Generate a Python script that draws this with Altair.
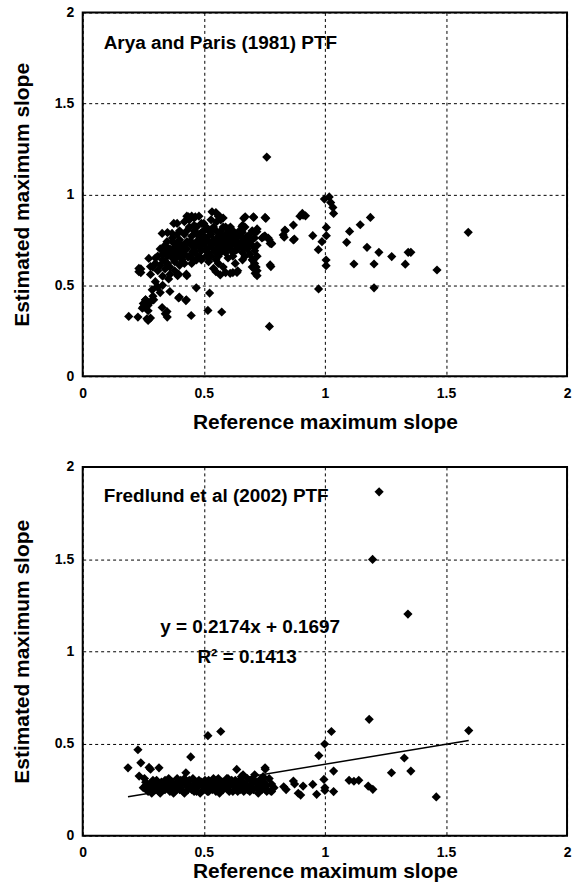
import altair as alt
import pandas as pd

# ---------------- data ----------------
ARYA_POINTS = [
    (0.760, 1.205), (0.771, 0.274), (1.592, 0.791), (1.463, 0.584), (1.355, 0.681),
    (1.344, 0.681), (1.332, 0.616), (1.276, 0.658), (1.223, 0.681), (1.203, 0.617),
    (1.203, 0.486), (1.188, 0.873), (1.174, 0.709), (1.146, 0.833), (1.120, 0.617),
    (1.102, 0.796), (1.090, 0.736), (1.036, 0.895), (1.033, 0.928), (1.024, 0.955),
    (0.998, 0.974), (1.018, 0.986), (1.006, 0.818), (1.006, 0.773), (1.005, 0.639),
    (1.005, 0.608), (0.988, 0.740), (0.973, 0.696), (0.950, 0.773), (0.974, 0.480),
    (0.920, 0.882), (0.907, 0.895), (0.874, 0.754), (0.870, 0.831), (0.836, 0.800),
    (0.832, 0.764), (0.777, 0.603), (0.780, 0.729), (0.756, 0.868), (0.744, 0.764),
    (0.766, 0.760), (0.710, 0.791), (0.720, 0.810), (0.706, 0.873), (0.665, 0.868),
    (0.659, 0.791), (0.720, 0.553), (0.710, 0.590), (0.703, 0.636), (0.574, 0.353),
    (0.517, 0.362), (0.524, 0.457), (0.469, 0.486), (0.448, 0.334), (0.426, 0.416),
    (0.399, 0.435), (0.392, 0.553), (0.430, 0.553), (0.360, 0.466), (0.341, 0.343),
    (0.349, 0.325), (0.190, 0.329), (0.228, 0.325), (0.270, 0.307), (0.265, 0.316),
    (0.250, 0.380), (0.246, 0.374), (0.259, 0.420), (0.293, 0.420), (0.287, 0.475),
    (0.307, 0.493), (0.328, 0.378), (0.348, 0.356), (0.355, 0.535), (0.396, 0.430),
    (0.428, 0.420), (0.396, 0.561), (0.428, 0.561), (0.232, 0.575), (0.232, 0.593),
    (0.280, 0.603), (0.273, 0.648), (0.540, 0.593), (0.550, 0.575), (0.568, 0.557),
    (0.609, 0.566), (0.637, 0.571), (0.712, 0.566), (0.716, 0.600), (0.376, 0.840),
    (0.328, 0.785), (0.369, 0.785), (0.348, 0.740), (0.437, 0.877), (0.465, 0.877),
    (0.534, 0.904), (0.568, 0.877), (0.553, 0.850), (0.671, 0.877), (0.705, 0.877),
    (0.753, 0.873), (0.657, 0.822), (0.719, 0.795), (0.897, 0.880), (0.910, 0.885),
    (0.835, 0.804), (0.828, 0.776), (0.870, 0.749), (0.753, 0.771), (0.774, 0.730),
    (0.774, 0.612),
    (0.30, 0.62), (0.31, 0.66), (0.32, 0.70), (0.33, 0.64), (0.34, 0.68), (0.34, 0.72),
    (0.35, 0.62), (0.35, 0.66), (0.36, 0.70), (0.36, 0.60), (0.37, 0.65), (0.37, 0.74),
    (0.38, 0.68), (0.38, 0.63), (0.39, 0.71), (0.39, 0.66), (0.40, 0.69), (0.40, 0.75),
    (0.41, 0.64), (0.41, 0.72), (0.42, 0.67), (0.42, 0.78), (0.43, 0.70), (0.43, 0.74),
    (0.44, 0.82), (0.44, 0.66), (0.45, 0.72), (0.45, 0.77), (0.46, 0.69), (0.46, 0.80),
    (0.47, 0.74), (0.47, 0.67), (0.48, 0.71), (0.48, 0.78), (0.49, 0.75), (0.49, 0.69),
    (0.50, 0.73), (0.50, 0.80), (0.51, 0.70), (0.51, 0.76), (0.52, 0.74), (0.52, 0.67),
    (0.53, 0.78), (0.53, 0.72), (0.54, 0.75), (0.54, 0.82), (0.55, 0.69), (0.55, 0.73),
    (0.56, 0.77), (0.56, 0.66), (0.57, 0.74), (0.57, 0.80), (0.58, 0.71), (0.58, 0.76),
    (0.59, 0.68), (0.59, 0.78), (0.60, 0.73), (0.60, 0.75), (0.61, 0.70), (0.61, 0.77),
    (0.62, 0.74), (0.62, 0.68), (0.63, 0.72), (0.63, 0.76), (0.64, 0.70), (0.64, 0.74),
    (0.65, 0.72), (0.66, 0.68), (0.66, 0.76), (0.67, 0.73), (0.68, 0.70), (0.68, 0.75),
    (0.69, 0.67), (0.70, 0.72), (0.70, 0.64), (0.71, 0.69), (0.72, 0.66), (0.71, 0.62),
    (0.70, 0.60), (0.72, 0.58),
    (0.44, 0.86), (0.46, 0.87), (0.50, 0.84), (0.53, 0.86), (0.57, 0.86), (0.59, 0.82),
    (0.62, 0.80), (0.47, 0.64), (0.52, 0.63), (0.56, 0.62), (0.58, 0.60), (0.59, 0.57),
    (0.62, 0.57), (0.64, 0.58), (0.63, 0.62), (0.66, 0.64), (0.67, 0.66), (0.53, 0.66),
    (0.55, 0.64), (0.45, 0.65), (0.42, 0.62), (0.40, 0.61), (0.38, 0.58), (0.36, 0.56),
    (0.34, 0.59), (0.33, 0.55), (0.31, 0.58), (0.30, 0.52), (0.31, 0.49), (0.33, 0.50),
    (0.32, 0.46), (0.29, 0.44), (0.28, 0.41), (0.27, 0.39), (0.26, 0.42), (0.27, 0.36),
    (0.28, 0.32), (0.26, 0.38), (0.25, 0.40), (0.24, 0.57), (0.24, 0.59), (0.28, 0.56),
    (0.29, 0.60), (0.30, 0.65), (0.35, 0.79), (0.37, 0.76), (0.39, 0.78), (0.39, 0.84),
    (0.42, 0.85), (0.43, 0.88), (0.45, 0.88), (0.48, 0.88), (0.47, 0.82), (0.49, 0.79),
    (0.51, 0.82), (0.55, 0.90), (0.56, 0.88), (0.58, 0.87), (0.60, 0.81), (0.62, 0.79),
    (0.65, 0.80), (0.66, 0.83), (0.67, 0.82), (0.69, 0.78), (0.71, 0.76), (0.72, 0.72),
    (0.70, 0.80), (0.74, 0.76), (0.75, 0.77), (0.77, 0.75), (0.78, 0.73),
    (0.365, 0.675), (0.375, 0.705), (0.385, 0.655), (0.395, 0.735), (0.405, 0.665),
    (0.415, 0.695), (0.425, 0.725), (0.435, 0.655), (0.445, 0.745), (0.455, 0.685),
    (0.465, 0.715), (0.475, 0.775), (0.485, 0.655), (0.495, 0.725), (0.505, 0.765),
    (0.515, 0.685), (0.525, 0.795), (0.535, 0.705), (0.545, 0.685), (0.555, 0.755),
    (0.565, 0.705), (0.575, 0.775), (0.585, 0.735), (0.595, 0.705), (0.605, 0.785),
    (0.615, 0.725), (0.625, 0.755), (0.635, 0.695), (0.645, 0.775), (0.655, 0.735),
    (0.665, 0.705), (0.675, 0.765), (0.685, 0.725), (0.695, 0.745), (0.43, 0.80),
    (0.46, 0.83), (0.49, 0.84), (0.52, 0.80), (0.55, 0.80), (0.58, 0.82), (0.61, 0.82),
    (0.64, 0.79), (0.40, 0.80), (0.38, 0.73), (0.35, 0.70), (0.33, 0.67), (0.32, 0.61),
    (0.34, 0.63), (0.49, 0.64), (0.51, 0.66), (0.60, 0.65), (0.62, 0.66), (0.57, 0.68),
    (0.45, 0.62),
]

FRED_POINTS = [
    (1.224, 1.865), (1.197, 1.498), (1.343, 1.202), (1.183, 0.631), (1.594, 0.570),
    (1.027, 0.565), (0.999, 0.497), (0.975, 0.434), (1.036, 0.350), (1.328, 0.421),
    (1.355, 0.350), (1.275, 0.341), (1.460, 0.210), (1.179, 0.269), (1.198, 0.251),
    (1.140, 0.300), (1.120, 0.295), (1.100, 0.300), (1.036, 0.239), (0.996, 0.305),
    (1.000, 0.260), (1.000, 0.245), (0.966, 0.224), (0.950, 0.278), (0.910, 0.269),
    (0.890, 0.230), (0.900, 0.220), (0.870, 0.296), (0.875, 0.280), (0.830, 0.265),
    (0.840, 0.250), (0.776, 0.242), (0.753, 0.368), (0.570, 0.565), (0.517, 0.542),
    (0.446, 0.427), (0.426, 0.341), (0.315, 0.368), (0.274, 0.370), (0.280, 0.360),
    (0.240, 0.395), (0.228, 0.466), (0.233, 0.323), (0.187, 0.368), (0.636, 0.359),
    (0.662, 0.330), (0.754, 0.360),
    (0.25, 0.26), (0.26, 0.29), (0.27, 0.24), (0.28, 0.27), (0.29, 0.30), (0.30, 0.25),
    (0.31, 0.28), (0.32, 0.23), (0.33, 0.26), (0.34, 0.30), (0.35, 0.27), (0.36, 0.24),
    (0.37, 0.29), (0.38, 0.26), (0.39, 0.31), (0.40, 0.25), (0.41, 0.28), (0.42, 0.23),
    (0.43, 0.27), (0.44, 0.30), (0.45, 0.25), (0.46, 0.28), (0.47, 0.24), (0.48, 0.27),
    (0.49, 0.29), (0.50, 0.25), (0.51, 0.27), (0.52, 0.30), (0.53, 0.26), (0.54, 0.28),
    (0.55, 0.24), (0.56, 0.31), (0.57, 0.27), (0.58, 0.25), (0.59, 0.29), (0.60, 0.26),
    (0.61, 0.28), (0.62, 0.24), (0.63, 0.30), (0.64, 0.27), (0.65, 0.25), (0.66, 0.29),
    (0.67, 0.26), (0.68, 0.31), (0.69, 0.24), (0.70, 0.28), (0.71, 0.33), (0.72, 0.26),
    (0.73, 0.30), (0.74, 0.25), (0.75, 0.29), (0.76, 0.27), (0.77, 0.31), (0.78, 0.24),
    (0.255, 0.31), (0.265, 0.25), (0.275, 0.28), (0.285, 0.23), (0.295, 0.27), (0.305, 0.30),
    (0.315, 0.24), (0.325, 0.29), (0.335, 0.25), (0.345, 0.28), (0.355, 0.31), (0.365, 0.26),
    (0.375, 0.23), (0.385, 0.28), (0.395, 0.26), (0.405, 0.30), (0.415, 0.24), (0.425, 0.29),
    (0.435, 0.25), (0.445, 0.27), (0.455, 0.31), (0.465, 0.26), (0.475, 0.29), (0.485, 0.23),
    (0.495, 0.27), (0.505, 0.30), (0.515, 0.24), (0.525, 0.28), (0.535, 0.25), (0.545, 0.30),
    (0.555, 0.27), (0.565, 0.23), (0.575, 0.29), (0.585, 0.26), (0.595, 0.31), (0.605, 0.24),
    (0.615, 0.30), (0.625, 0.27), (0.635, 0.25), (0.645, 0.29), (0.655, 0.32), (0.665, 0.24),
    (0.675, 0.28), (0.685, 0.26), (0.695, 0.30), (0.705, 0.25), (0.715, 0.29), (0.725, 0.23),
    (0.735, 0.27), (0.745, 0.32), (0.755, 0.25),
    (0.26, 0.27), (0.28, 0.25), (0.30, 0.29), (0.32, 0.27), (0.34, 0.25), (0.36, 0.30),
    (0.38, 0.24), (0.40, 0.28), (0.42, 0.31), (0.44, 0.26), (0.46, 0.24), (0.48, 0.30),
    (0.50, 0.28), (0.52, 0.24), (0.54, 0.31), (0.56, 0.26), (0.58, 0.29), (0.60, 0.31),
    (0.62, 0.28), (0.64, 0.24), (0.66, 0.27), (0.68, 0.25), (0.70, 0.30), (0.72, 0.29),
    (0.74, 0.28), (0.76, 0.24), (0.78, 0.28), (0.79, 0.26),
]

FIT_SLOPE = 0.2174
FIT_INTERCEPT = 0.1697
PANEL_TITLES = ["Arya and Paris (1981) PTF", "Fredlund et al (2002) PTF"]
FIT_LABELS = ["y = 0.2174x + 0.1697", "R\u00b2 = 0.1413"]
TICKS = [0, 0.5, 1, 1.5, 2]
X_TITLE = "Reference maximum slope"
Y_TITLE = "Estimated maximum slope"

# ---------------- styling ----------------
FONT = "Liberation Sans"
W = 486
H_TOP = 365
H_BOT = 370
TICK_FS = 14
TITLE_FS = 21
NOTE_FS = 19


def x_enc(title_y):
    return alt.X(
        "x:Q",
        scale=alt.Scale(domain=[0, 2], nice=False, zero=False),
        axis=alt.Axis(
            values=TICKS, format="~g", title=X_TITLE,
            grid=True, gridDash=[3, 3], gridColor="black", gridWidth=1, gridOpacity=1,
            domain=False, ticks=False, labelFlush=False, labelOverlap=False,
            labelPadding=10, labelFont=FONT, labelFontSize=TICK_FS, labelFontWeight="bold",
            labelColor="black", titleFont=FONT, titleFontSize=TITLE_FS, titleFontWeight="bold",
            titleColor="black", titleX=W / 2, titleY=title_y, titleBaseline="middle",
            titleAlign="center",
        ),
    )


def y_enc(h):
    return alt.Y(
        "y:Q",
        scale=alt.Scale(domain=[0, 2], nice=False, zero=False),
        axis=alt.Axis(
            values=TICKS, format="~g", title=Y_TITLE,
            grid=True, gridDash=[3, 3], gridColor="black", gridWidth=1, gridOpacity=1,
            domain=False, ticks=False, labelOverlap=False, labelFlush=False,
            labelPadding=9, labelFont=FONT, labelFontSize=TICK_FS, labelFontWeight="bold",
            labelColor="black", titleFont=FONT, titleFontSize=TITLE_FS, titleFontWeight="bold",
            titleColor="black", titleX=-60, titleY=h / 2, titleBaseline="middle",
            titleAlign="center", titleAngle=270,
        ),
    )


def points_layer(pts, h, title_y):
    df = pd.DataFrame(pts, columns=["x", "y"])
    return alt.Chart(df).mark_point(
        shape="diamond", filled=True, size=85, color="black", opacity=1
    ).encode(x=x_enc(title_y), y=y_enc(h))


def text_layer(txt, px, py, align="left"):
    df = pd.DataFrame({"t": [txt]})
    return alt.Chart(df).mark_text(
        font=FONT, fontSize=NOTE_FS, fontWeight="bold", color="black",
        align=align, baseline="middle",
    ).encode(x=alt.value(px), y=alt.value(py), text="t:N")


top = alt.layer(
    points_layer(ARYA_POINTS, H_TOP, 46),
    text_layer(PANEL_TITLES[0], 21, 31),
).properties(width=W, height=H_TOP)

fx = [min(p[0] for p in FRED_POINTS), max(p[0] for p in FRED_POINTS)]
fit_df = pd.DataFrame({"x": fx, "y": [FIT_SLOPE * v + FIT_INTERCEPT for v in fx]})
fit_line = alt.Chart(fit_df).mark_line(color="black", strokeWidth=1.5).encode(
    x="x:Q", y="y:Q"
)

bottom = alt.layer(
    points_layer(FRED_POINTS, H_BOT, 36),
    fit_line,
    text_layer(PANEL_TITLES[1], 21, 29),
    text_layer(FIT_LABELS[0], 168, 161, "center"),
    text_layer(FIT_LABELS[1], 165, 191, "center"),
).properties(width=W, height=H_BOT)

chart = alt.vconcat(top, bottom, spacing=91, bounds="flush").properties(
    padding={"left": 11, "top": 3, "right": 5, "bottom": 0},
    background="white",
).configure_view(stroke="black", strokeWidth=2)

chart.save("out.html", embed_options={"renderer": "svg", "actions": False})
